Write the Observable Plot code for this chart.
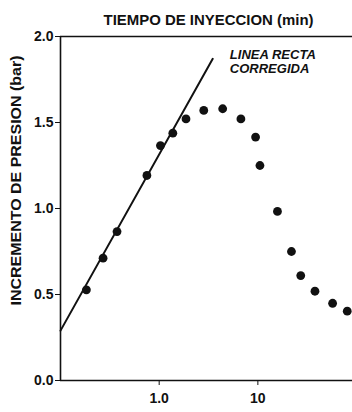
<!DOCTYPE html>
<html>
<head>
<meta charset="utf-8">
<script src="https://cdn.jsdelivr.net/npm/d3@7"></script>
<script src="https://cdn.jsdelivr.net/npm/@observablehq/plot@0.6"></script>
<style>
  html, body { margin: 0; padding: 0; background: #fff; }
</style>
</head>
<body>
<div id="chart"></div>
<script>
// Injection time (min) and pressure increase (bar)
const timeMin  = [0.183, 0.270, 0.374, 0.751, 1.03, 1.375, 1.87, 2.83, 4.40, 6.73, 9.48, 10.5, 15.8, 21.9, 27.2, 37.9, 57.2, 80.5];
const pressure = [0.527, 0.711, 0.866, 1.192, 1.366, 1.438, 1.521, 1.570, 1.580, 1.521, 1.415, 1.25, 0.983, 0.750, 0.610, 0.519, 0.449, 0.403];

// Corrected straight line (endpoints)
const lineTime = [0.1, 3.49];
const linePressure = [0.29, 1.87];

const xTicks = [1, 10];
const xTickLabels = ["1.0", "10"];
const yTicks = [0, 0.5, 1.0, 1.5, 2.0];
const yTickLabels = ["0.0", "0.5", "1.0", "1.5", "2.0"];

const titleText = "TIEMPO DE INYECCION (min)";
const yLabelText = "INCREMENTO DE PRESION (bar)";
const noteText = "LINEA RECTA\nCORREGIDA";
const noteX = [5.2];
const noteY = [1.93];

const points = timeMin.map((t, i) => ({t, p: pressure[i]}));
const linePts = lineTime.map((t, i) => ({t, p: linePressure[i]}));
const xDomain = [0.1, 91];
const yDomain = [0, 2];

const xFmt = d => xTickLabels[xTicks.indexOf(d)];
const yFmt = d => yTickLabels[yTicks.indexOf(d)];

const font = "'Liberation Sans', Arial, sans-serif";

const chart = Plot.plot({
  width: 352,
  height: 412,
  marginLeft: 60,
  marginRight: 0,
  marginTop: 36,
  marginBottom: 32,
  style: {fontFamily: font, fontSize: "14px", fontWeight: "bold", color: "#111", background: "#fff"},
  x: {type: "log", domain: xDomain},
  y: {domain: yDomain},
  marks: [
    Plot.axisX(xTicks, {tickSize: 5, tickPadding: 8, tickFormat: xFmt, label: null, fontSize: 14, fontWeight: "bold", strokeWidth: 1}),
    Plot.axisY(yTicks, {tickSize: 5, tickPadding: 2, tickFormat: yFmt, label: null, fontSize: 14, fontWeight: "bold", strokeWidth: 1}),
    Plot.ruleY([yDomain[0]], {stroke: "#111", strokeWidth: 1.6}),
    Plot.ruleY([yDomain[1]], {stroke: "#111", strokeWidth: 1.6}),
    Plot.ruleX([xDomain[0]], {stroke: "#111", strokeWidth: 1.6}),
    Plot.line(linePts, {x: "t", y: "p", stroke: "#111", strokeWidth: 2}),
    Plot.dot(points, {x: "t", y: "p", r: 4.4, fill: "#111", stroke: "none"}),
    Plot.text([noteText], {x: noteX, y: noteY, text: d => d, textAnchor: "start", lineAnchor: "top", lineHeight: 1.1, fontSize: 13, fontStyle: "italic", fontWeight: 600, fill: "#111", className: "note"}),
    Plot.text([titleText], {frameAnchor: "top-left", text: d => d, textAnchor: "start", lineAnchor: "bottom", dx: 43, dy: -12, fontSize: 15, fontWeight: "bold", fill: "#111", className: "ttl"}),
    Plot.text([yLabelText], {frameAnchor: "bottom-left", text: d => d, textAnchor: "start", lineAnchor: "middle", rotate: -90, dx: -44, dy: -75, fontSize: 15, fontWeight: "bold", fill: "#111", className: "ylab"})
  ]
});

document.getElementById("chart").appendChild(chart);

// condense text to match the narrow typeface of the original
const sel = d3.select(chart);
sel.selectAll(".ttl text").attr("textLength", 210).attr("lengthAdjust", "spacingAndGlyphs");
sel.selectAll(".ylab text").attr("textLength", 250).attr("lengthAdjust", "spacingAndGlyphs");
</script>
</body>
</html>
